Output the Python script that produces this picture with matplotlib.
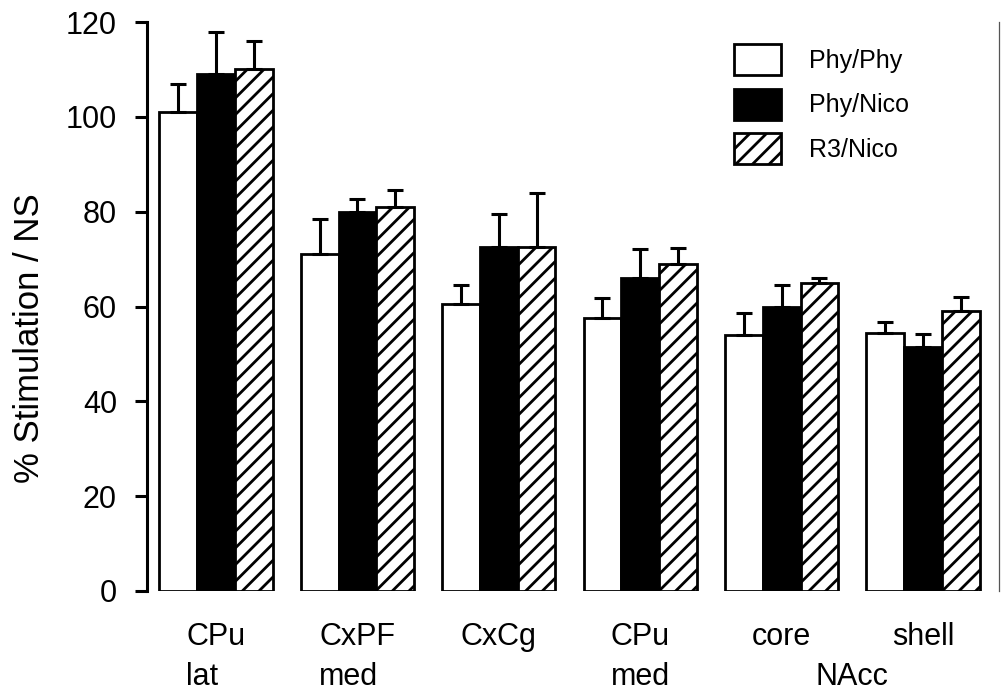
import matplotlib
matplotlib.use('Agg')
import matplotlib.pyplot as plt
import numpy as np

plt.rcParams['font.family'] = ['Liberation Sans', 'DejaVu Sans']
plt.rcParams['hatch.linewidth'] = 2.0

regions = ['CPu\nlat', 'CxPF\nmed', 'CxCg', 'CPu\nmed', 'core', 'shell']
series = ['Phy/Phy', 'Phy/Nico', 'R3/Nico']

phy_phy = [101, 71, 60.5, 57.5, 54, 54.5]
phy_phy_err = [6, 7.5, 4, 4.2, 4.6, 2.3]
phy_nico = [109, 80, 72.5, 66, 60, 51.5]
phy_nico_err = [8.8, 2.6, 7.1, 6.2, 4.5, 2.7]
r3_nico = [110, 81, 72.5, 69, 65, 59]
r3_nico_err = [6, 3.6, 11.4, 3.4, 1.0, 2.9]

fig = plt.figure(figsize=(10.01, 6.91), dpi=100)
ax = fig.add_axes([147/1001, 1-591/691, (999-147)/1001, (591-22)/691])

x = np.arange(len(regions))
w = 0.267
styles = [dict(color='white', hatch=None),
          dict(color='black', hatch=None),
          dict(color='white', hatch='//')]
vals = [phy_phy, phy_nico, r3_nico]
errs = [phy_phy_err, phy_nico_err, r3_nico_err]

for i in range(3):
    xs = x + (i-1)*w
    ax.bar(xs, vals[i], w, color=styles[i]['color'], hatch=styles[i]['hatch'],
           edgecolor='black', linewidth=2, label=series[i], zorder=2)
    ax.errorbar(xs, vals[i], yerr=[np.zeros(len(x)), errs[i]], fmt='none',
                ecolor='black', elinewidth=2.2, capsize=5.8, capthick=2.2, zorder=3)

ax.set_ylim(0, 120)
ax.set_xlim(-0.488, 5.537)
ax.set_yticks(np.arange(0, 121, 20))
ax.tick_params(axis='y', labelsize=22, length=8.6, width=2.2, pad=13)
ax.set_xticks(x)
ax.set_xticklabels(regions, multialignment='left', linespacing=1.44)
ax.tick_params(axis='x', labelsize=22, length=0, pad=22)

ax.annotate('NAcc', xy=(4.5, 0), xycoords=('data', 'axes fraction'),
            xytext=(0, -67.7), textcoords='offset points',
            ha='center', va='baseline', fontsize=22)

ax.spines['top'].set_visible(False)
ax.spines['bottom'].set_visible(False)
ax.spines['left'].set_linewidth(2.2)
ax.spines['right'].set_color('#555555')
ax.spines['right'].set_linewidth(0.9)

fig.text(30/1001, 1-338/691, '% Stimulation / NS', rotation=90,
         ha='center', va='center', fontsize=25)

fs = 18*100/72
ax.legend(loc='upper left', bbox_to_anchor=(734/1001, 1-44/691),
          bbox_transform=fig.transFigure, frameon=False, fontsize=18,
          handlelength=47/fs, handleheight=1.53, handletextpad=1.12,
          labelspacing=0.55, borderpad=0, borderaxespad=0)

fig.savefig('out.png', dpi=100)
